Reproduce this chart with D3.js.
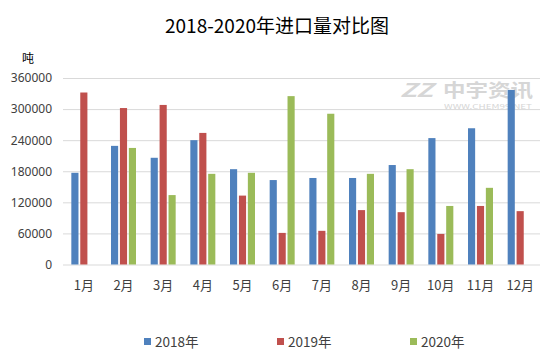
<!DOCTYPE html>
<html><head><meta charset="utf-8">
<script src="https://cdn.jsdelivr.net/npm/d3@7/dist/d3.min.js"></script>
<style>
html,body{margin:0;padding:0;background:#fff;}
svg{display:block;font-family:"Noto Sans CJK SC","Noto Sans",sans-serif;}
</style></head>
<body>
<svg id="c" width="554" height="361"></svg>
<script>
const months = ["1月","2月","3月","4月","5月","6月","7月","8月","9月","10月","11月","12月"];
const seriesNames = ["2018年","2019年","2020年"];
const colors = ["#4f81bd","#c0504d","#9bbb59"];
const v2018 = [177000,229000,206000,240000,184000,163000,167000,167000,192000,244000,263000,337000];
const v2019 = [332000,302000,308000,254000,133000,61000,65000,105000,101000,59000,113000,103000];
const v2020 = [null,225000,134000,175000,177000,325000,291000,175000,184000,113000,148000,null];
const yTicks = [0,60000,120000,180000,240000,300000,360000];
const title = "2018-2020年进口量对比图";
const unit = "吨";

(function(){
const svg = d3.select("#c");
const pLeft = 64, pRight = 540, pTop = 78, pBottom = 264.5;
const x0 = d3.scaleBand().domain(months).range([pLeft, pRight]);
const x1 = d3.scaleBand().domain(seriesNames).range([-12.5, 12.5]).paddingInner(0.2);
const y = d3.scaleLinear().domain([0, 360000]).range([pBottom, pTop]);
const data = [v2018, v2019, v2020];

// title
svg.append("text").attr("x", 277).attr("y", 33).attr("text-anchor","middle")
  .attr("font-size", 19).attr("fill","#000").text(title);
// unit
svg.append("text").attr("x", 28).attr("y", 63).attr("text-anchor","middle")
  .attr("font-size", 12).attr("fill","#000").text(unit);

// grid
const yAxis = d3.axisLeft(y).tickValues(yTicks).tickSize(-(pRight - pLeft + 1)).tickPadding(10).tickFormat(d3.format("d"));
const gy = svg.append("g").attr("transform", `translate(${pLeft-1},0)`).call(yAxis);
gy.select(".domain").remove();
gy.selectAll(".tick line").attr("stroke", "#d9d9d9").attr("stroke-width", 1);
gy.selectAll(".tick text").attr("font-size", 12).attr("fill", "#404040")
  .attr("font-family", "'Noto Sans','DejaVu Sans',sans-serif").attr("x", -11);

// watermark
const wm = svg.append("g").attr("fill", "#d6d6d6");
wm.append("text").attr("x", 400).attr("y", 97).attr("font-size", 19).attr("font-weight","bold")
  .attr("font-style","italic").attr("textLength", 33).attr("lengthAdjust","spacingAndGlyphs").text("ZZ");
wm.append("text").attr("x", 443).attr("y", 96.5).attr("font-size", 18).attr("font-weight","bold")
  .attr("textLength", 90).attr("lengthAdjust","spacingAndGlyphs").text("中宇资讯");
wm.append("text").attr("x", 444).attr("y", 108.5).attr("font-size", 6.5)
  .attr("textLength", 88).attr("lengthAdjust","spacingAndGlyphs").text("WWW.CHEM99.NET");

// bars
seriesNames.forEach((s, si) => {
  svg.append("g").attr("fill", colors[si]).selectAll("rect")
    .data(months.map((m, i) => ({m, v: data[si][i]})).filter(d => d.v != null))
    .join("rect")
    .attr("x", d => x0(d.m) + x0.bandwidth()/2 + x1(s))
    .attr("width", x1.bandwidth())
    .attr("y", d => y(d.v))
    .attr("height", d => y(0) - y(d.v));
});

// x axis labels
const xAxis = d3.axisBottom(x0).tickSize(0).tickPadding(16);
const gx = svg.append("g").attr("transform", `translate(0,${pBottom})`).call(xAxis);
gx.select(".domain").remove();
gx.selectAll(".tick text").attr("font-size", 13).attr("fill", "#404040")
  .attr("font-family", "'Noto Sans CJK SC',sans-serif");

// legend
const lx = [144, 277, 410];
seriesNames.forEach((s, si) => {
  svg.append("rect").attr("x", lx[si]).attr("y", 338).attr("width", 7).attr("height", 7).attr("fill", colors[si]);
  svg.append("text").attr("x", lx[si] + 11).attr("y", 346.5).attr("font-size", 13.5).attr("fill", "#404040").text(s);
});
})();
</script>
</body></html>
